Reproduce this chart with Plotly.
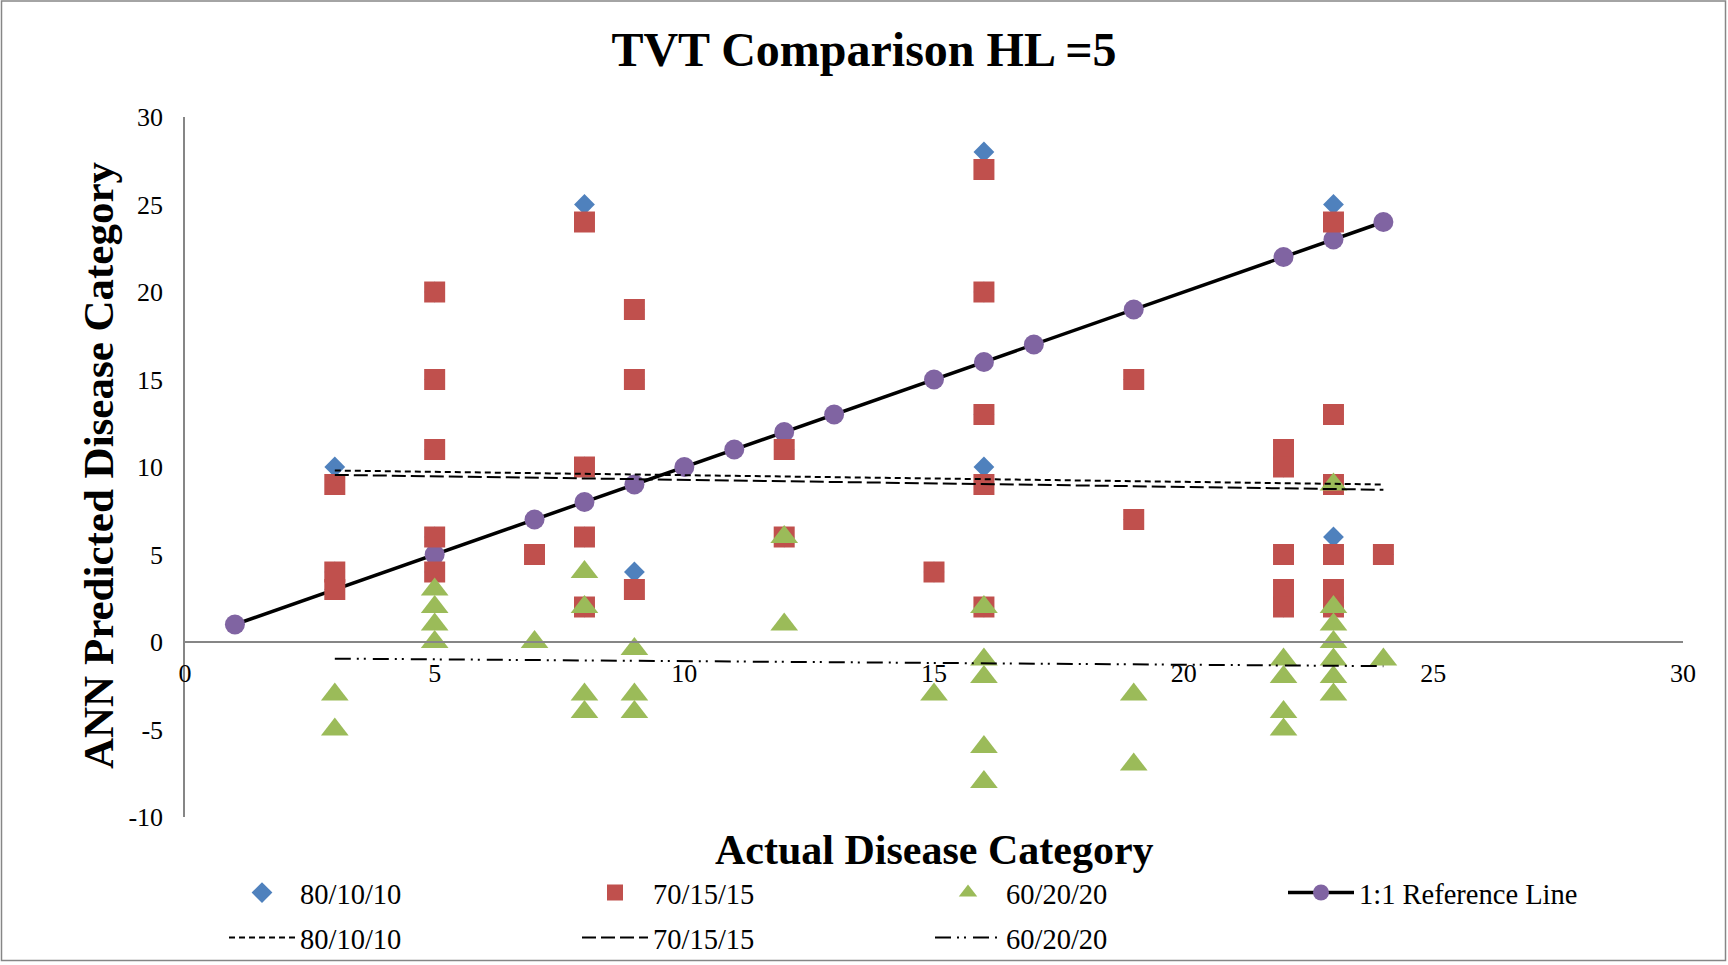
import plotly.graph_objects as go

FONT = "Liberation Serif, Times New Roman, serif"

# Predicted vs actual disease category for each train/validation/test split
x_80 = [3, 3, 3, 5, 5, 5, 5, 5, 7, 8, 8, 8, 8, 9, 9, 9, 12, 12, 15,
        16, 16, 16, 16, 16, 16, 19, 19, 22, 22, 22, 22, 22,
        23, 23, 23, 23, 23, 23, 23, 24]
y_80 = [10, 4, 3, 20, 15, 11, 6, 4, 5, 25, 10, 6, 2, 19, 15, 4, 11, 6, 4,
        28, 20, 13, 10, 9, 2, 15, 7, 11, 10, 5, 3, 2,
        25, 13, 9, 6, 5, 3, 2, 5]

x_70 = [3, 3, 3, 5, 5, 5, 5, 5, 7, 8, 8, 8, 8, 9, 9, 9, 12, 12, 15,
        16, 16, 16, 16, 16, 19, 19, 22, 22, 22, 22, 22,
        23, 23, 23, 23, 23, 23, 24]
y_70 = [9, 4, 3, 20, 15, 11, 6, 4, 5, 24, 10, 6, 2, 19, 15, 3, 11, 6, 4,
        27, 20, 13, 9, 2, 15, 7, 11, 10, 5, 3, 2,
        24, 13, 9, 5, 3, 2, 5]

x_60 = [3, 3, 5, 5, 5, 5, 7, 8, 8, 8, 8, 9, 9, 9, 12, 12, 15,
        16, 16, 16, 16, 16, 19, 19, 22, 22, 22, 22,
        23, 23, 23, 23, 23, 23, 23, 24]
y_60 = [-3, -5, 3, 2, 1, 0, 0, 4, 2, -3, -4, -0.4, -3, -4, 6, 1, -3,
        2, -1, -2, -6, -8, -3, -7, -1, -2, -4, -5,
        9, 2, 1, 0, -1, -2, -3, -1]

# 1:1 reference line (actual = predicted)
ref_x = [1, 3, 5, 7, 8, 9, 10, 11, 12, 13, 15, 16, 17, 19, 22, 23, 24]
ref_y = [1, 3, 5, 7, 8, 9, 10, 11, 12, 13, 15, 16, 17, 19, 22, 23, 24]

# Linear trend lines, start and end values
trend_x = [3, 24]
trend_80 = [9.8, 9.0]
trend_70 = [9.55, 8.7]
trend_60 = [-0.95, -1.38]

series_names = ["80/10/10", "70/15/15", "60/20/20"]

# Axis ticks (plain hyphen for negatives)
x_ticks = [0, 5, 10, 15, 20, 25, 30]
y_ticks = [-10, -5, 0, 5, 10, 15, 20, 25, 30]
y_tick_labels = ["-10", "-5", "0", "5", "10", "15", "20", "25", "30"]

BLUE = "#4F81BD"
RED = "#C0504D"
GREEN = "#9BBB59"
PURPLE = "#8064A2"
AXIS = "#868686"

W, H = 1728, 965
L, R, T, B = 185, 45, 117, 148
PW, PH = W - L - R, H - T - B


def px_x(px):
    return (px - L) / PW


def px_y(py):
    return (H - B - py) / PH


fig = go.Figure()

fig.add_trace(go.Scatter(
    x=ref_x, y=ref_y, mode="lines+markers", name="1:1 Reference Line",
    line=dict(color="black", width=3.5),
    marker=dict(symbol="circle", size=20, color=PURPLE),
    legendrank=4, legend="legend"))

fig.add_trace(go.Scatter(
    x=x_80, y=y_80, mode="markers", name=series_names[0],
    marker=dict(symbol="diamond", size=16, color=BLUE),
    legendrank=1, legend="legend"))

fig.add_trace(go.Scatter(
    x=x_70, y=y_70, mode="markers", name=series_names[1],
    marker=dict(symbol="square", size=21, color=RED),
    legendrank=2, legend="legend"))

fig.add_trace(go.Scatter(
    x=x_60, y=y_60, mode="markers", name=series_names[2],
    marker=dict(symbol="triangle-up", size=24, color=GREEN),
    legendrank=3, legend="legend"))

fig.add_trace(go.Scatter(
    x=trend_x, y=trend_80, mode="lines", name=series_names[0],
    line=dict(color="black", width=2, dash="6px,4px"),
    legendrank=5, legend="legend2"))

fig.add_trace(go.Scatter(
    x=trend_x, y=trend_70, mode="lines", name=series_names[1],
    line=dict(color="black", width=2, dash="14px,5px"),
    legendrank=6, legend="legend2"))

fig.add_trace(go.Scatter(
    x=trend_x, y=trend_60, mode="lines", name=series_names[2],
    line=dict(color="black", width=2, dash="16px,6px,2px,5px,2px,7px"),
    legendrank=7, legend="legend2"))

ITEM_W = 66
TEXT_GAP = ITEM_W + 10
legend_common = dict(
    orientation="h", xanchor="left", yanchor="middle",
    x=px_x(300 - TEXT_GAP), itemwidth=ITEM_W,
    entrywidth=353 - TEXT_GAP - 5, entrywidthmode="pixels",
    font=dict(family=FONT, size=28.5, color="black"),
    bgcolor="rgba(0,0,0,0)", borderwidth=0, traceorder="normal",
)

fig.update_layout(
    width=W, height=H,
    margin=dict(l=L, r=R, t=T, b=B, autoexpand=False),
    paper_bgcolor="white", plot_bgcolor="white",
    font=dict(family=FONT, color="black"),
    title=dict(text="<b>TVT Comparison HL =5</b>", x=0.5, xanchor="center",
               xref="container", y=1 - 49 / H, yanchor="middle",
               yref="container",
               font=dict(family=FONT, size=48, color="black")),
    xaxis=dict(range=[0, 30], tickvals=x_ticks, showgrid=False,
               zeroline=False, showline=True, linecolor=AXIS, linewidth=1.5,
               anchor="free", position=0.25, ticks="",
               ticklabelstandoff=8,
               tickfont=dict(family=FONT, size=26, color="black")),
    yaxis=dict(range=[-10, 30], tickvals=y_ticks, ticktext=y_tick_labels,
               showgrid=False, zeroline=False, showline=True,
               linecolor=AXIS, linewidth=1.5,
               ticks="", ticklabelstandoff=15,
               tickfont=dict(family=FONT, size=26, color="black")),
    legend=dict(y=px_y(893), **legend_common),
    legend2=dict(y=px_y(938), **legend_common),
    showlegend=True,
)

fig.add_annotation(
    text="<b>Actual Disease Category</b>", xref="paper", yref="paper",
    x=px_x(934), y=px_y(850), xanchor="center", yanchor="middle",
    showarrow=False, font=dict(family=FONT, size=42, color="black"))

fig.add_annotation(
    text="<b>ANN Predicted Disease Category</b>", xref="paper", yref="paper",
    x=px_x(98), y=px_y(465), xanchor="center", yanchor="middle",
    textangle=-90, showarrow=False,
    font=dict(family=FONT, size=43, color="black"))

# Chart-area border
fig.add_shape(type="rect", xref="paper", yref="paper",
              x0=px_x(1.5), x1=px_x(1725.5), y0=px_y(960.5), y1=px_y(1),
              line=dict(color=AXIS, width=1.5), fillcolor="rgba(0,0,0,0)",
              layer="below")

fig.write_html("out.html")
